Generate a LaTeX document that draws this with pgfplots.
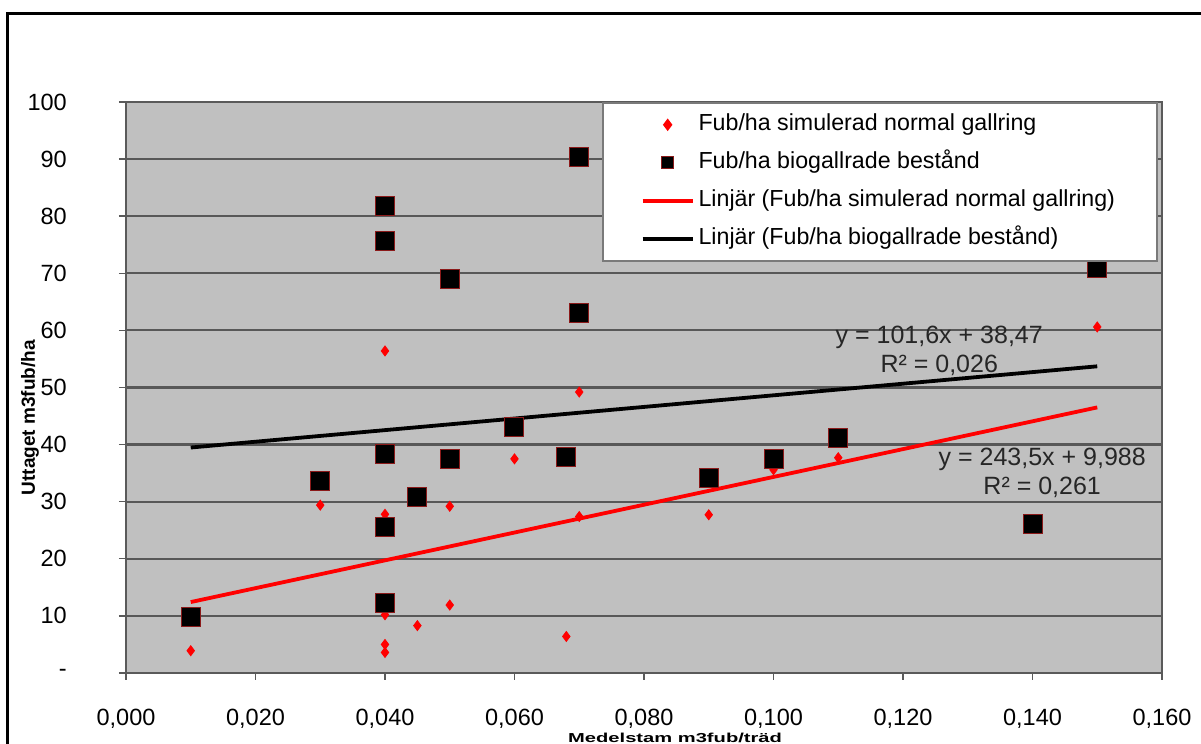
\documentclass[border=0pt]{standalone}
\usepackage{pgfplots}
\pgfplotsset{compat=1.18}
\usepackage{fontspec}
\setmainfont{Liberation Sans}
\usepackage{graphicx}
\definecolor{plotbg}{HTML}{C0C0C0}
\definecolor{gridc}{HTML}{585858}
\definecolor{axisc}{HTML}{5A5A5A}
\definecolor{sqborder}{HTML}{8B1A1A}
\definecolor{legborder}{HTML}{7A7A7A}
\begin{document}
\begin{tikzpicture}
\begin{axis}[
  at={(0,0)}, anchor=south west,
  scale only axis, width=518pt, height=285.5pt,
  xmin=0, xmax=0.16, ymin=0, ymax=100,
  axis background/.style={fill=plotbg},
  axis line style={draw=axisc, line width=0.9pt},
  xtick={0,0.02,0.04,0.06,0.08,0.1,0.12,0.14,0.16},
  xticklabels={{0,000},{0,020},{0,040},{0,060},{0,080},{0,100},{0,120},{0,140},{0,160}},
  ytick={0,10,20,30,40,50,60,70,80,90,100},
  yticklabels={-,10,20,30,40,50,60,70,80,90,100},
  tick align=outside, tick pos=left, major tick length=3.5pt,
  tick style={draw=axisc, line width=0.7pt},
  ymajorgrids, grid style={draw=gridc, line width=1.1pt},
  ticklabel style={font=\fontsize{11.75}{14}\selectfont, text=black},
  xticklabel style={yshift=-11pt},
  yticklabel style={xshift=-22.6pt},
  ylabel={\bfseries Uttaget m3fub/ha},
  ylabel style={at={(axis description cs:-0.0927,0.447)}, anchor=center, font=\fontsize{9.5}{11}\selectfont},
  xlabel={\scalebox{1.55}[1]{\bfseries Medelstam m3fub/träd}},
  xlabel style={at={(axis description cs:0.53,-0.114)}, anchor=center, font=\fontsize{6.5}{8}\selectfont},
  legend cell align=left,
  legend image code/.code={\draw[mark repeat=2,mark phase=2,#1] plot coordinates {(0pt,0pt) (12.5pt,0pt) (25pt,0pt)};},
  legend style={at={(axis description cs:0.996,1)}, anchor=north east,
    draw=legborder, line width=0.8pt, fill=white,
    font=\fontsize{11.6}{14}\selectfont,
    inner xsep=19pt, inner ysep=3pt, row sep=3pt, column sep=0pt,
    nodes={inner xsep=2pt, inner ysep=2.5pt, text height=8.5pt, text depth=2.5pt}},
]
\addplot[only marks, mark=diamond*, mark size=2.5pt, color=red] coordinates {
(0.010,3.9)(0.030,29.4)(0.040,56.4)(0.040,27.8)(0.040,10.2)(0.040,5.0)(0.040,3.6)
(0.045,8.3)(0.050,29.2)(0.050,11.9)(0.060,37.5)(0.068,6.4)(0.070,49.2)(0.070,27.4)
(0.090,27.7)(0.100,35.6)(0.110,37.7)(0.140,25.6)(0.150,60.6)};
\addlegendentry{Fub/ha simulerad normal gallring}
\addplot[only marks, mark=square*, mark size=4.75pt, mark options={fill=black, draw=sqborder, line width=0.5pt},
  legend image post style={mark size=3pt}] coordinates {
(0.010,9.75)(0.030,33.7)(0.040,81.8)(0.040,75.7)(0.040,38.4)(0.040,25.5)(0.040,12.3)
(0.045,30.9)(0.050,69.0)(0.050,37.5)(0.060,43.0)(0.068,37.9)(0.070,90.4)(0.070,63.0)
(0.090,34.1)(0.100,37.4)(0.110,41.2)(0.140,26.1)(0.150,70.9)};
\addlegendentry{Fub/ha biogallrade bestånd}
\addplot[red, line width=1.9pt, no marks] coordinates {(0.01,12.423)(0.15,46.513)};
\addlegendentry{Linjär (Fub/ha simulerad normal gallring)}
\addplot[black, line width=1.9pt, no marks] coordinates {(0.01,39.486)(0.15,53.71)};
\addlegendentry{Linjär (Fub/ha biogallrade bestånd)}
\node[align=center, font=\fontsize{12.5}{14.5}\selectfont, text=black!85] at (axis cs:0.1256,56.35) {y = 101,6x + 38,47\\R² = 0,026};
\node[align=center, font=\fontsize{12.5}{14.5}\selectfont, text=black!85] at (axis cs:0.1415,35.0) {y = 243,5x + 9,988\\R² = 0,261};
\end{axis}
\draw[line width=1.5pt] (-59pt,-40pt) -- (-59pt,329.5pt) -- (545pt,329.5pt);
\pgfresetboundingbox
\useasboundingbox (-63pt,-35.5pt) rectangle (537.5pt,336.5pt);
\end{tikzpicture}
\end{document}
